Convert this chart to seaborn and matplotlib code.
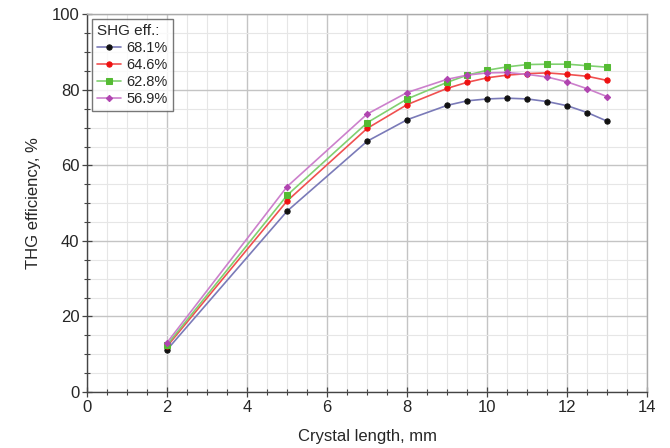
import matplotlib
matplotlib.use("Agg")
import matplotlib.pyplot as plt
import seaborn as sns
import pandas as pd
from matplotlib.ticker import MultipleLocator

crystal_length = [2, 5, 7, 8, 9, 9.5, 10, 10.5, 11, 11.5, 12, 12.5, 13]
eff_681 = [11.2, 47.9, 66.4, 72.1, 75.9, 77.1, 77.6, 77.8, 77.6, 76.9, 75.8, 74.0, 71.7]
eff_646 = [12.1, 50.6, 69.8, 76.1, 80.4, 82.0, 83.2, 83.9, 84.3, 84.5, 84.1, 83.6, 82.5]
eff_628 = [12.5, 52.1, 71.3, 77.6, 82.0, 83.9, 85.2, 86.1, 86.7, 86.8, 86.8, 86.4, 86.0]
eff_569 = [13.1, 54.4, 73.6, 79.3, 82.8, 83.9, 84.5, 84.6, 84.1, 83.4, 82.1, 80.3, 78.2]
series_labels = ["68.1%", "64.6%", "62.8%", "56.9%"]
series_values = [eff_681, eff_646, eff_628, eff_569]

rows = []
for lab, vals in zip(series_labels, series_values):
    for x, y in zip(crystal_length, vals):
        rows.append({"Crystal length": x, "THG": y, "SHG": lab})
df = pd.DataFrame(rows)

sns.set_style("white")
plt.rcParams["font.family"] = ["Liberation Sans", "DejaVu Sans"]

styles = {
    "68.1%": dict(line="#7a7ab8", mk="#111111", marker="o", ms=3.8),
    "64.6%": dict(line="#f05050", mk="#ee1111", marker="o", ms=3.8),
    "62.8%": dict(line="#80d070", mk="#55bb33", marker="s", ms=4.3),
    "56.9%": dict(line="#cc80cc", mk="#b044b0", marker="D", ms=3.2),
}

fig = plt.figure(figsize=(6.7, 4.48), dpi=100)
ax = fig.add_axes([0.13, 0.125, 0.836, 0.843])

for lab in series_labels:
    st = styles[lab]
    sub = df[df["SHG"] == lab]
    sns.lineplot(data=sub, x="Crystal length", y="THG", ax=ax, color=st["line"],
                 marker=st["marker"], markersize=st["ms"], markerfacecolor=st["mk"],
                 markeredgecolor=st["mk"], linewidth=1.2, label=lab, zorder=3)

ax.set_xlim(0, 14)
ax.set_ylim(0, 100)
ax.xaxis.set_major_locator(MultipleLocator(2))
ax.xaxis.set_minor_locator(MultipleLocator(0.5))
ax.yaxis.set_major_locator(MultipleLocator(20))
ax.yaxis.set_minor_locator(MultipleLocator(5))
ax.grid(which="major", color="#c4c4c4", linewidth=1.0, zorder=0)
ax.grid(which="minor", color="#e6e6e6", linewidth=0.8, zorder=0)
ax.set_axisbelow(True)

for s in ["left", "bottom"]:
    ax.spines[s].set_color("#444444")
    ax.spines[s].set_linewidth(1.0)
for s in ["top", "right"]:
    ax.spines[s].set_color("#aaaaaa")
    ax.spines[s].set_linewidth(1.0)

ax.tick_params(which="major", direction="inout", length=7, width=0.9, color="#444444",
               labelsize=12, pad=2)
ax.tick_params(which="minor", direction="inout", length=5, width=0.8, color="#444444")
ax.tick_params(axis="both", which="both", bottom=True, left=True, top=False, right=False)

ax.set_xlabel("Crystal length, mm", fontsize=12, labelpad=10)
ax.set_ylabel("THG efficiency, %", fontsize=12, labelpad=8)

leg = ax.legend(title="SHG eff.:", loc="upper left", fontsize=10.5, title_fontsize=11,
                frameon=True, fancybox=False, edgecolor="#555555", handlelength=1.6,
                borderpad=0.35, labelspacing=0.2, handletextpad=0.4,
                borderaxespad=0, bbox_to_anchor=(0.009, 0.987))
leg._legend_box.align = "left"
leg.get_frame().set_linewidth(1.0)

fig.savefig("out.png", dpi=100)
